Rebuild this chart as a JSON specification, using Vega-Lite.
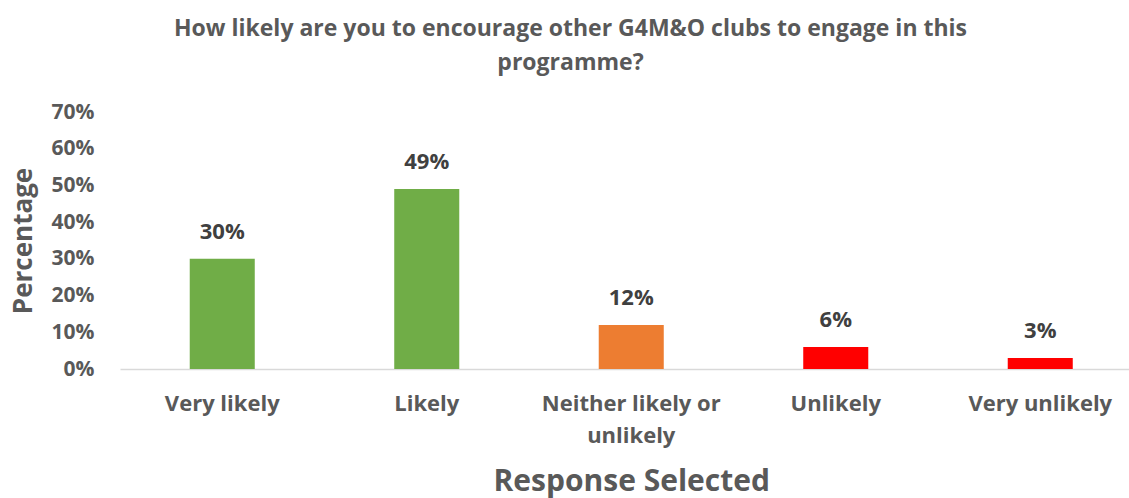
{
  "$schema": "https://vega.github.io/schema/vega-lite/v6.json",
  "autosize": {"type": "none"},
  "width": 1009,
  "height": 257,
  "padding": {"left": 120, "top": 112, "right": 0, "bottom": 129},
  "background": "white",
  "config": {"view": {"stroke": null}, "font": "Open Sans"},
  "title": {
    "text": ["How likely are you to encourage other G4M&O clubs to engage in this", "programme?"],
    "fontSize": 23,
    "fontWeight": "bold",
    "color": "#595959",
    "lineHeight": 34,
    "anchor": "middle",
    "dx": -54,
    "offset": 26,
    "font": "Open Sans"
  },
  "data": {
    "values": [
      {"response": "Very likely", "pct": 0.30, "group": "positive"},
      {"response": "Likely", "pct": 0.49, "group": "positive"},
      {"response": "Neither likely or unlikely", "pct": 0.12, "group": "neutral"},
      {"response": "Unlikely", "pct": 0.06, "group": "negative"},
      {"response": "Very unlikely", "pct": 0.03, "group": "negative"}
    ]
  },
  "encoding": {
    "x": {
      "field": "response",
      "type": "nominal",
      "sort": null,
      "scale": {"range": [0, 1022.5], "paddingInner": 0.682, "paddingOuter": 0.341},
      "axis": {
        "title": "Response Selected",
        "titleFontSize": 30,
        "titleFontWeight": "bold",
        "titleColor": "#595959",
        "titlePadding": 20,
        "labelAngle": 0,
        "labelFontSize": 22,
        "labelFontWeight": "bold",
        "labelColor": "#595959",
        "labelPadding": 24,
        "labelLineHeight": 32,
        "labelExpr": "datum.label == 'Neither likely or unlikely' ? ['Neither likely or', 'unlikely'] : datum.label",
        "ticks": false,
        "domainColor": "#D9D9D9",
        "domainWidth": 1.5,
        "grid": false
      }
    },
    "y": {
      "field": "pct",
      "type": "quantitative",
      "scale": {"domain": [0, 0.7]},
      "axis": {
        "title": "Percentage",
        "titleFontSize": 26,
        "titleFontWeight": "bold",
        "titleColor": "#595959",
        "titlePadding": 15,
        "values": [0, 0.1, 0.2, 0.3, 0.4, 0.5, 0.6, 0.7],
        "format": ".0%",
        "labelFontSize": 21,
        "labelFontWeight": "bold",
        "labelColor": "#595959",
        "labelPadding": 26,
        "ticks": false,
        "domain": false,
        "grid": false
      }
    }
  },
  "layer": [
    {
      "mark": {"type": "bar"},
      "encoding": {
        "color": {
          "field": "group",
          "type": "nominal",
          "scale": {"domain": ["positive", "neutral", "negative"], "range": ["#70AD47", "#ED7D31", "#FF0000"]},
          "legend": null
        }
      }
    },
    {
      "mark": {"type": "text", "dy": -27, "baseline": "middle", "fontSize": 22, "fontWeight": "bold", "color": "#404040"},
      "encoding": {
        "text": {"field": "pct", "type": "quantitative", "format": ".0%"}
      }
    }
  ]
}
